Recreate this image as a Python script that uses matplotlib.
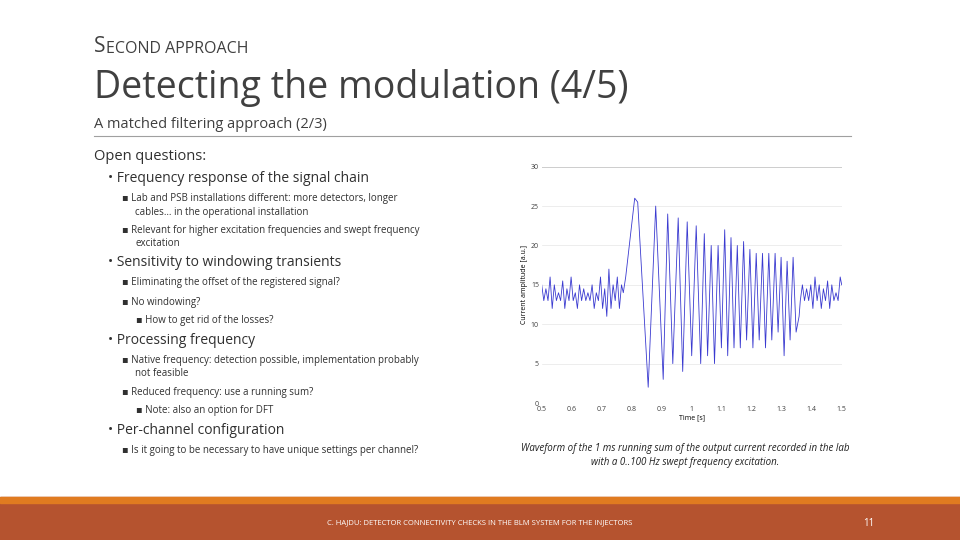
import matplotlib
matplotlib.use("Agg")
import matplotlib.pyplot as plt

# noise before excitation (0.50 .. 0.77 s)
pre_t = [0.500, 0.507, 0.514, 0.521, 0.528, 0.535, 0.542, 0.549, 0.556, 0.563,
         0.570, 0.577, 0.584, 0.591, 0.598, 0.605, 0.612, 0.619, 0.626, 0.633,
         0.640, 0.647, 0.654, 0.661, 0.668, 0.675, 0.682, 0.689, 0.696, 0.703,
         0.710, 0.717, 0.724, 0.731, 0.738, 0.745, 0.752, 0.759, 0.766, 0.772]
pre_v = [15, 13, 14.5, 13, 16, 12, 15, 13, 14, 13, 15.5, 12, 14.5, 13, 16, 13, 14, 12, 15, 13,
         14.5, 13, 14, 13, 15, 12, 14, 13, 16, 12, 14.5, 11, 17, 12, 15, 13, 16, 12, 15, 14]
# swept excitation: extremes (peaks / troughs)
sw_t = [0.780, 0.795, 0.810, 0.820, 0.855, 0.880, 0.905, 0.920, 0.937, 0.955, 0.970, 0.985,
        1.000, 1.015, 1.030, 1.042, 1.053, 1.065, 1.076, 1.088, 1.099, 1.110, 1.120, 1.131,
        1.141, 1.152, 1.162, 1.173, 1.183, 1.194, 1.204, 1.215, 1.225, 1.236, 1.246, 1.257,
        1.267, 1.278, 1.288, 1.298, 1.308, 1.318, 1.328, 1.338, 1.348, 1.358]
sw_v = [16, 21, 26, 25.5, 2, 25, 3, 24, 5, 23.5, 4, 23, 6, 22.5, 5, 21.5, 6, 20, 5, 20,
        7, 22, 6, 21, 7, 20, 7, 20.5, 8, 19.5, 7, 19, 8, 19, 7, 19, 8, 19, 9, 18.5, 6, 18,
        8, 18.5, 9, 11]
# noise after excitation (1.36 .. 1.50 s)
post_t = [1.362, 1.369, 1.376, 1.383, 1.390, 1.397, 1.404, 1.411, 1.418, 1.425,
          1.432, 1.439, 1.446, 1.453, 1.460, 1.467, 1.474, 1.481, 1.488, 1.495, 1.500]
post_v = [13, 15, 13, 14.5, 13, 15, 12, 16, 13, 15, 12, 14.5, 13, 15.5, 12, 15, 13, 14, 13, 16, 15]

t = pre_t + sw_t + post_t
v = pre_v + sw_v + post_v

fig = plt.figure(figsize=(9.6, 5.4), dpi=100)
plt.rcParams["font.family"] = ["Open Sans", "DejaVu Sans"]
W, H = 960, 540


def txt(x, y, s, **kw):
    fig.text(x / W, 1 - y / H, s, va="center", **kw)


txt(94, 47, "S", fontsize=15, color="#404040")
txt(106, 49, "ECOND APPROACH", fontsize=11.5, color="#404040")
txt(94, 88, "Detecting the modulation (4/5)", fontsize=27, color="#404040")
txt(94, 124, "A matched filtering approach (2/3)", fontsize=10.5, color="#404040")
fig.add_artist(plt.Line2D([94 / W, 851 / W], [1 - 136 / H, 1 - 136 / H], color="#a0a0a0", lw=0.8))

body = [
    (94, 157, "Open questions:", 10.5),
    (108, 179, "• Frequency response of the signal chain", 10),
    (122, 199, "▪ Lab and PSB installations different: more detectors, longer", 7),
    (135, 212, "cables… in the operational installation", 7),
    (122, 230, "▪ Relevant for higher excitation frequencies and swept frequency", 7),
    (135, 243, "excitation", 7),
    (108, 263, "• Sensitivity to windowing transients", 10),
    (122, 283, "▪ Eliminating the offset of the registered signal?", 7),
    (122, 302, "▪ No windowing?", 7),
    (136, 320, "▪ How to get rid of the losses?", 7),
    (108, 341, "• Processing frequency", 10),
    (122, 361, "▪ Native frequency: detection possible, implementation probably", 7),
    (135, 374, "not feasible", 7),
    (122, 392, "▪ Reduced frequency: use a running sum?", 7),
    (136, 411, "▪ Note: also an option for DFT", 7),
    (108, 431, "• Per-channel configuration", 10),
    (122, 451, "▪ Is it going to be necessary to have unique settings per channel?", 7),
]
for x, y, s, fs in body:
    txt(x, y, s, fontsize=fs, color="#303030")

txt(685, 448, "Waveform of the 1 ms running sum of the output current recorded in the lab",
    fontsize=7, color="#202020", style="italic", ha="center")
txt(685, 462, "with a 0..100 Hz swept frequency excitation.",
    fontsize=7, color="#202020", style="italic", ha="center")

# footer
fig.add_artist(plt.Rectangle((0, 0), 1, 43 / H, color="#b5532f", transform=fig.transFigure))
fig.add_artist(plt.Rectangle((0, 37 / H), 1, 6 / H, color="#e07b20", transform=fig.transFigure))
txt(480, 523, "C. HAJDU: DETECTOR CONNECTIVITY CHECKS IN THE BLM SYSTEM FOR THE INJECTORS",
    fontsize=5.5, color="white", ha="center")
txt(869, 523, "11", fontsize=7, color="white", ha="center")

ax = fig.add_axes([541.7 / W, 1 - 403 / H, 300 / W, 236.3 / H])
ax.plot(t, v, color="#3a3ad0", lw=0.6)
ax.set_xlim(0.5, 1.5)
ax.set_ylim(0, 30)
ax.set_xticks([0.5, 0.6, 0.7, 0.8, 0.9, 1.0, 1.1, 1.2, 1.3, 1.4, 1.5])
ax.set_xticklabels(["0.5", "0.6", "0.7", "0.8", "0.9", "1", "1.1", "1.2", "1.3", "1.4", "1.5"])
ax.set_yticks([0, 5, 10, 15, 20, 25, 30])
ax.tick_params(labelsize=5, length=0, pad=2, colors="#404040")
ax.yaxis.grid(True, color="#e6e6e6", lw=0.5)
for s in ax.spines.values():
    s.set_visible(False)
ax.axhline(30, color="#c8c8c8", lw=1.2)
ax.set_xlabel("Time [s]", fontsize=5, labelpad=1)
ax.set_ylabel("Current amplitude [a.u.]", fontsize=5, labelpad=2)

fig.savefig("out.png", dpi=100)
